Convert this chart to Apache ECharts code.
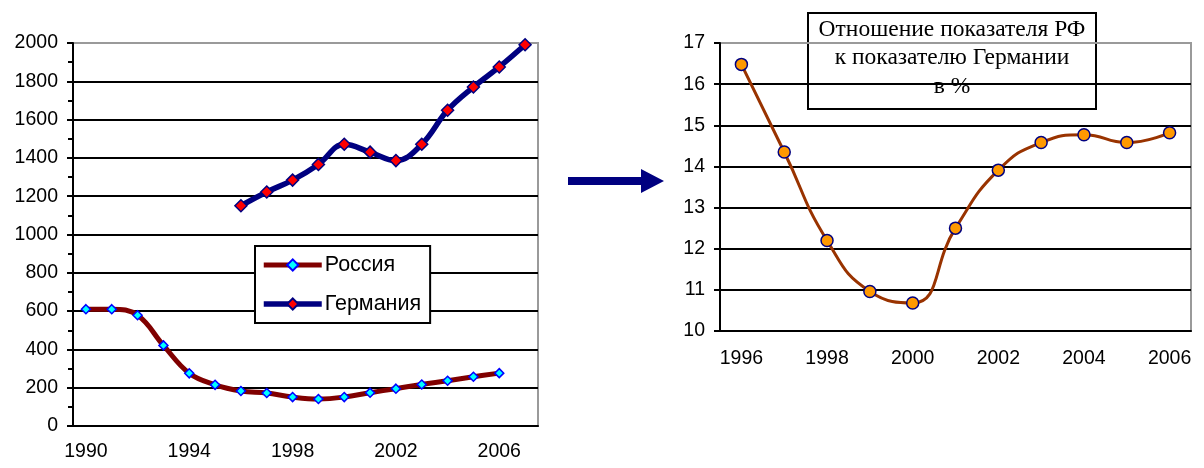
<!DOCTYPE html>
<html>
<head>
<meta charset="utf-8">
<script src="https://cdn.jsdelivr.net/npm/echarts@6/dist/echarts.min.js"></script>
<style>html,body{margin:0;padding:0;background:#fff}#c{width:1204px;height:468px}</style>
</head>
<body>
<div id="c"></div>
<script>
var yearsLeft = ['1990','1991','1992','1993','1994','1995','1996','1997','1998','1999','2000','2001','2002','2003','2004','2005','2006','2007'];
var russia = [610, 610, 578, 421, 275, 215, 183, 172, 151, 141, 151, 174, 195, 217, 236, 257, 276, null];
var germany = [null, null, null, null, null, null, 1150, 1222, 1284, 1366, 1471, 1430, 1386, 1471, 1649, 1770, 1875, 1991];
var yearsRight = ['1996','1997','1998','1999','2000','2001','2002','2003','2004','2005','2006'];
var ratio = [16.48, 14.35, 12.2, 10.96, 10.68, 12.5, 13.91, 14.58, 14.77, 14.58, 14.82];
var titleLines = ['Отношение показателя РФ', 'к показателю Германии', 'в %'];

var FONT = 'Liberation Sans, Arial, sans-serif';
var chart = echarts.init(document.getElementById('c'), null, {renderer: 'canvas'});
function gridColors(n){ var a=[]; for(var i=0;i<n-1;i++) a.push('#000'); a.push('#9a9a9a'); return a; }
function plain(v){ return String(v); }

chart.setOption({
  animation: false,
  backgroundColor: '#fff',
  grid: [
    {left: 73, top: 43, width: 465, height: 383, show: true, borderColor: '#9a9a9a', borderWidth: 2, backgroundColor: 'transparent'},
    {left: 720, top: 43, width: 471, height: 288, show: true, borderColor: '#9a9a9a', borderWidth: 2, backgroundColor: 'transparent'}
  ],
  legend: {
    data: [
      {name: 'Россия', lineStyle: {width: 5, color: '#800000'}},
      {name: 'Германия', lineStyle: {width: 5.5, color: '#000080'}}
    ],
    orient: 'vertical',
    left: 255, top: 246,
    padding: [8, 9, 8, 6],
    itemWidth: 58, itemHeight: 14, itemGap: 17,
    backgroundColor: '#fff',
    borderColor: '#000', borderWidth: 2,
    textStyle: {fontFamily: FONT, fontSize: 21.5, lineHeight: 18, color: '#000', padding: [0,0,0,-2]},
    z: 50
  },
  xAxis: [
    {type: 'category', gridIndex: 0, data: yearsLeft, boundaryGap: true,
     axisLine: {lineStyle: {color: '#000', width: 2}},
     axisTick: {interval: 0, length: 6, lineStyle: {color: '#000', width: 2}},
     axisLabel: {interval: 3, margin: 16, fontFamily: FONT, fontSize: 19.5, color: '#000'},
     splitLine: {show: false}},
    {type: 'category', gridIndex: 1, data: yearsRight, boundaryGap: true,
     axisLine: {lineStyle: {color: '#000', width: 2}},
     axisTick: {interval: 0, length: 6, lineStyle: {color: '#000', width: 2}},
     axisLabel: {interval: 1, margin: 18, fontFamily: FONT, fontSize: 19.5, color: '#000'},
     splitLine: {show: false}}
  ],
  yAxis: [
    {type: 'value', gridIndex: 0, min: 0, max: 2000, interval: 200,
     axisLine: {show: true, lineStyle: {color: '#000', width: 2}},
     axisTick: {show: true, length: 6, lineStyle: {color: '#000', width: 2}},
     minorTick: {show: true, splitNumber: 2, length: 5, lineStyle: {color: '#000', width: 2}},
     axisLabel: {margin: 15, fontFamily: FONT, fontSize: 19.5, color: '#000', formatter: plain},
     splitLine: {show: true, lineStyle: {color: gridColors(11), width: 2}}},
    {type: 'value', gridIndex: 1, min: 10, max: 17, interval: 1,
     axisLine: {show: true, lineStyle: {color: '#000', width: 2}},
     axisTick: {show: true, length: 6, lineStyle: {color: '#000', width: 2}},
     axisLabel: {margin: 15, fontFamily: FONT, fontSize: 19.5, color: '#000', formatter: plain},
     splitLine: {show: true, lineStyle: {color: gridColors(8), width: 2}}}
  ],
  series: [
    {name: 'Россия', type: 'line', xAxisIndex: 0, yAxisIndex: 0, data: russia, smooth: 0.4,
     lineStyle: {color: '#800000', width: 5}, itemStyle: {color: '#00ffff', borderColor: '#0000ff', borderWidth: 1.5},
     symbol: 'diamond', symbolSize: 9, showAllSymbol: true, z: 3},
    {name: 'Германия', type: 'line', xAxisIndex: 0, yAxisIndex: 0, data: germany, smooth: 0.4,
     lineStyle: {color: '#000080', width: 5.5}, itemStyle: {color: '#ff0000', borderColor: '#000080', borderWidth: 1.5},
     symbol: 'diamond', symbolSize: 12, showAllSymbol: true, z: 3},
    {name: 'ratio', type: 'line', xAxisIndex: 1, yAxisIndex: 1, data: ratio, smooth: 0.5,
     lineStyle: {color: '#993300', width: 3}, itemStyle: {color: '#ff9900', borderColor: '#000080', borderWidth: 1.5},
     symbol: 'circle', symbolSize: 12, showAllSymbol: true, z: 3}
  ],
  graphic: [
    {type: 'polygon', z: 100,
     shape: {points: [[568,177],[641,177],[641,169],[664,181],[641,193],[641,185],[568,185]]},
     style: {fill: '#000080'}},
    {type: 'group', z: 100, children: [
      {type: 'rect', shape: {x: 808, y: 13, width: 288, height: 96}, style: {fill: '#fff', stroke: '#000', lineWidth: 2}},
      {type: 'text', style: {x: 952, y: 58, text: titleLines.join('\n'), align: 'center', verticalAlign: 'middle',
        font: '23.5px "Liberation Serif", "Times New Roman", serif', lineHeight: 28.5, fill: '#000'}}
    ]}
  ]
});
</script>
</body>
</html>
